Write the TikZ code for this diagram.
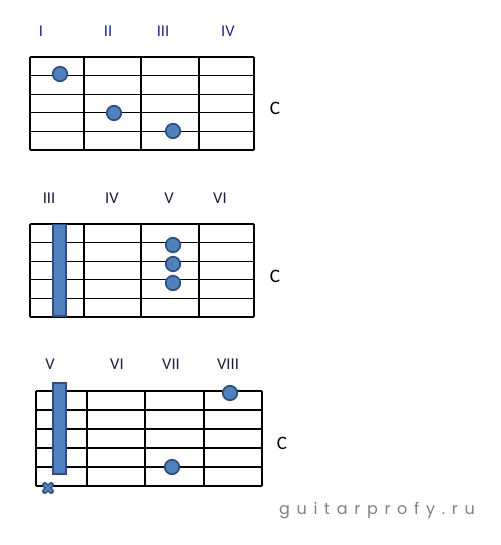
\documentclass[tikz,border=0pt]{standalone}
\usepackage{fontspec}
\setmainfont{Carlito}
\newfontfamily\markfont[LetterSpace=42]{Poppins}
\usetikzlibrary{positioning, calc}
\definecolor{dotblue}{HTML}{4F81BD}
\definecolor{dotedge}{HTML}{2F4F7A}
\definecolor{fretnum}{HTML}{1C2A8C}
\definecolor{fretdark}{HTML}{1E1E3C}
\tikzset{
    % Grid styles
    fretline/.style={black, line width=1.1pt},
    % Finger styles
    finger/.style={circle, draw=dotedge, fill=dotblue, line width=1.7pt,
                   minimum size=14.5pt, inner sep=0pt},
    barre/.style={draw=dotedge, fill=dotblue, line width=1.7pt},
    mute/.style={dotedge, line width=5.6pt, line cap=round},
    mute fill/.style={dotblue, line width=2.8pt, line cap=round},
    % Text styles
    fretlabel/.style={font=\fontsize{16.5}{16.5}\selectfont, text=fretnum},
    fretlabel dark/.style={fretlabel, text=fretdark},
    chordname/.style={font=\fontsize{19}{19}\selectfont},
}

\begin{document}
\begin{tikzpicture}[x=1pt, y=-1pt]
    \useasboundingbox (0,0) rectangle (500,545);

    % First chord
    \foreach \y in {57, 75.6, 94.2, 112.8, 131.4, 150} {
        \draw[fretline] (30,\y) -- (254,\y);
    }
    \foreach \x in {30, 84, 141, 199, 254} {
        \draw[fretline] (\x,57) -- (\x,150);
    }
    \foreach \x/\t/\n in {41/I/a, 108/II/b, 163/III/c, 228/IV/d} {
        \node[fretlabel] (one-\n) at (\x, 31) {\t};
    }
    \node[finger] (one-f1) at (60, 74) {};
    \node[finger] (one-f2) at (114, 113) {};
    \node[finger] (one-f3) at (173, 131) {};
    \node[chordname] (one-name) at (275, 108) {C};

    % Second chord
    \foreach \y in {224, 242.6, 261.2, 279.8, 298.4, 317} {
        \draw[fretline] (30,\y) -- (254,\y);
    }
    \foreach \x in {30, 84, 141, 199, 254} {
        \draw[fretline] (\x,224) -- (\x,317);
    }
    \foreach \x/\t/\n in {49/III/a, 112/IV/b, 169/V/c, 220/VI/d} {
        \node[fretlabel dark] (two-\n) at (\x, 198) {\t};
    }
    \draw[barre] (53,224.5) rectangle (66,316);
    \foreach \y/\n in {245/f1, 264/f2, 283/f3} {
        \node[finger] (two-\n) at (173, \y) {};
    }
    \node[chordname] (two-name) at (275, 276) {C};

    % Third chord
    \foreach \y in {391, 410, 429, 448, 467, 486} {
        \draw[fretline] (36,\y) -- (262,\y);
    }
    \foreach \x in {36, 87, 145, 204, 262} {
        \draw[fretline] (\x,391) -- (\x,486);
    }
    \foreach \x/\t/\n in {50/V/a, 117/VI/b, 171/VII/c, 228/VIII/d} {
        \node[fretlabel dark] (three-\n) at (\x, 364) {\t};
    }
    \draw[barre] (53,383) rectangle (66,474);
    \node[finger] (three-f1) at (230, 393) {};
    \node[finger] (three-f2) at (172, 467) {};
    \coordinate (three-x) at (48, 488);
    \draw[mute] ($(three-x)+(-3.2,-3.2)$) -- ($(three-x)+(3.2,3.2)$)
                ($(three-x)+(-3.2,3.2)$) -- ($(three-x)+(3.2,-3.2)$);
    \draw[mute fill] ($(three-x)+(-3.2,-3.2)$) -- ($(three-x)+(3.2,3.2)$)
                     ($(three-x)+(-3.2,3.2)$) -- ($(three-x)+(3.2,-3.2)$);
    \node[chordname] (three-name) at (282, 443) {C};

    % Site mark
    \node[font={\markfont\fontsize{16}{16}\selectfont}, text=black!50]
        (site) at (377, 511) {guitarprofy.ru};
\end{tikzpicture}
\end{document}
